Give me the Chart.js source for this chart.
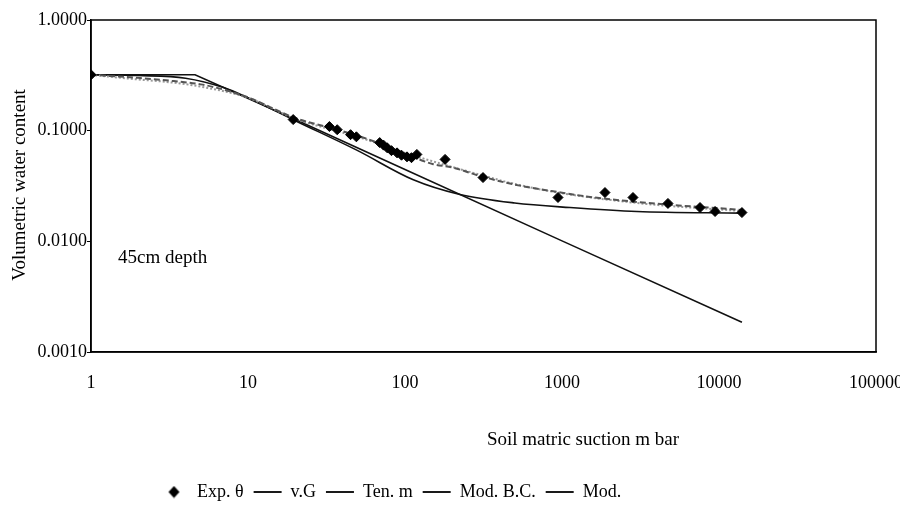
<!DOCTYPE html>
<html>
<head>
<meta charset="utf-8">
<script src="https://cdn.jsdelivr.net/npm/chart.js@4.4.1/dist/chart.umd.min.js"></script>
<style>
html, body { margin: 0; padding: 0; background: #fff; }
#wrap { width: 900px; height: 518px; }
</style>
</head>
<body>
<div id="wrap"><canvas id="soilChart" width="900" height="518"></canvas></div>
<script>
// tick values
const xTicks = [1, 10, 100, 1000, 10000, 100000];
const yTicks = [1, 0.1, 0.01, 0.001];

// measured points (Exp. theta)
const expSuction = [1, 19.4, 33, 37, 45, 49, 69, 73, 77, 82, 89, 95, 103, 110, 119, 180, 314, 943, 1878, 2832, 4730, 7570, 9440, 14000];
const expTheta = [0.32, 0.126, 0.109, 0.102, 0.092, 0.088, 0.078, 0.074, 0.070, 0.066, 0.063, 0.060, 0.058, 0.057, 0.061, 0.055, 0.0377, 0.0249, 0.0276, 0.0249, 0.022, 0.0202, 0.0186, 0.0182];

// v.G fit
const vgSuction = [1, 2, 3, 5, 7, 10, 20, 35, 50, 70, 100, 150, 200, 300, 487, 1000, 1508, 3000, 5000, 10600, 14000];
const vgTheta = [0.32, 0.30, 0.285, 0.262, 0.235, 0.20, 0.13, 0.104, 0.09, 0.076, 0.062, 0.050, 0.0465, 0.039, 0.0328, 0.0275, 0.0252, 0.0227, 0.0213, 0.0198, 0.0192];

// Ten. m fit
const tenSuction = [1, 2, 3, 5, 10, 20, 35, 50, 70, 100, 200, 300, 500, 1000, 3000, 5000, 14000];
const tenTheta = [0.32, 0.29, 0.276, 0.25, 0.198, 0.128, 0.101, 0.088, 0.075, 0.063, 0.047, 0.040, 0.033, 0.0272, 0.0222, 0.0208, 0.0188];

// Mod. B.C.
const bcSuction = [1, 4.6, 20, 100, 1000, 14000];
const bcTheta = [0.32, 0.32, 0.126, 0.0446, 0.0101, 0.00186];

// Mod.
const modSuction = [1, 2, 4, 7, 10, 20, 50, 113, 224, 500, 1125, 3000, 14000];
const modTheta = [0.32, 0.315, 0.298, 0.245, 0.198, 0.123, 0.066, 0.036, 0.0265, 0.0222, 0.0202, 0.0186, 0.018];

function pairs(xs, ys) {
    return xs.map((x, i) => ({ x: x, y: ys[i] }));
}

const serif = '"Liberation Serif", "Times New Roman", serif';

// diamond used for the legend entry
const diamond = document.createElement('canvas');
diamond.width = 13;
diamond.height = 13;
(function() {
    const c = diamond.getContext('2d');
    c.fillStyle = '#000';
    c.beginPath();
    c.moveTo(6.5, 0.5);
    c.lineTo(12, 6.5);
    c.lineTo(6.5, 12.5);
    c.lineTo(1, 6.5);
    c.closePath();
    c.fill();
})();

const frameAndText = {
    id: 'frameAndText',
    afterLayout(chart) {
        const l = chart.legend;
        const dx = 150 - l.left;
        l.left += dx;
        l.right += dx;
    },
    afterDraw(chart) {
        const ctx = chart.ctx;
        const a = chart.chartArea;
        ctx.save();
        ctx.strokeStyle = '#000';
        ctx.lineWidth = 1.5;
        ctx.strokeRect(a.left, a.top, a.right - a.left, a.bottom - a.top);
        ctx.fillStyle = '#000';
        ctx.font = '19px ' + serif;
        ctx.textBaseline = 'middle';
        ctx.textAlign = 'left';
        ctx.fillText('45cm depth', 118, 258);
        ctx.textAlign = 'center';
        ctx.fillText('Soil matric suction m bar', 583, 440);
        ctx.translate(20, 185);
        ctx.rotate(-Math.PI / 2);
        ctx.fillText('Volumetric water content', 0, 0);
        ctx.restore();
    }
};

const ctx = document.getElementById('soilChart').getContext('2d');
const soilChart = new Chart(ctx, {
    type: 'scatter',
    data: {
        datasets: [{
            label: 'Exp. \u03b8',
            data: pairs(expSuction, expTheta),
            pointStyle: 'rectRot',
            pointRadius: 5,
            backgroundColor: '#000',
            borderColor: '#000',
            showLine: false
        }, {
            label: 'v.G',
            data: pairs(vgSuction, vgTheta),
            showLine: true,
            borderColor: '#555',
            borderWidth: 2,
            borderDash: [6, 3],
            pointRadius: 0,
            pointStyle: 'line',
            cubicInterpolationMode: 'monotone'
        }, {
            label: 'Ten. m',
            data: pairs(tenSuction, tenTheta),
            showLine: true,
            borderColor: '#999',
            borderWidth: 2,
            borderDash: [2, 2],
            pointRadius: 0,
            pointStyle: 'line',
            cubicInterpolationMode: 'monotone'
        }, {
            label: 'Mod. B.C.',
            data: pairs(bcSuction, bcTheta),
            showLine: true,
            borderColor: '#111',
            borderWidth: 1.6,
            pointRadius: 0,
            pointStyle: 'line'
        }, {
            label: 'Mod.',
            data: pairs(modSuction, modTheta),
            showLine: true,
            borderColor: '#111',
            borderWidth: 1.6,
            pointRadius: 0,
            pointStyle: 'line',
            cubicInterpolationMode: 'monotone'
        }]
    },
    options: {
        responsive: false,
        animation: false,
        layout: { padding: { top: 20, right: 24, bottom: 7, left: 0 } },
        plugins: {
            tooltip: { enabled: false },
            legend: {
                position: 'bottom',
                align: 'start',
                labels: {
                    usePointStyle: true,
                    pointStyleWidth: 28,
                    padding: 10,
                    color: '#000',
                    font: { family: serif, size: 18 },
                    generateLabels(chart) {
                        const items = Chart.defaults.plugins.legend.labels.generateLabels(chart);
                        items.forEach((it, i) => {
                            it.strokeStyle = '#000';
                            it.lineWidth = 1.8;
                            it.lineDash = [];
                            if (i === 0) it.pointStyle = diamond;
                        });
                        return items;
                    }
                }
            }
        },
        scales: {
            x: {
                type: 'logarithmic',
                min: 1,
                max: 100000,
                afterBuildTicks(scale) {
                    scale.ticks = xTicks.map(v => ({ value: v }));
                },
                afterFit(scale) {
                    scale.height = 121;
                    // let the last label run off the page, as in the scan
                    scale.paddingLeft = 0;
                    scale.paddingRight = 0;
                },
                ticks: {
                    autoSkip: false,
                    maxRotation: 0,
                    padding: 20,
                    color: '#000',
                    font: { family: serif, size: 18 },
                    callback: v => String(v)
                },
                grid: { drawOnChartArea: false, drawTicks: false },
                border: { color: '#000', width: 1.5 }
            },
            y: {
                type: 'logarithmic',
                min: 0.001,
                max: 1,
                afterBuildTicks(scale) {
                    scale.ticks = yTicks.map(v => ({ value: v }));
                },
                afterFit(scale) {
                    scale.width = 91;
                    scale.paddingTop = 0;
                    scale.paddingBottom = 0;
                },
                ticks: {
                    padding: 0,
                    color: '#000',
                    font: { family: serif, size: 18 },
                    callback: v => Number(v).toFixed(4)
                },
                grid: { drawOnChartArea: false, drawTicks: true, tickLength: 4, color: '#000' },
                border: { color: '#000', width: 1.5 }
            }
        }
    },
    plugins: [frameAndText]
});
</script>
</body>
</html>
